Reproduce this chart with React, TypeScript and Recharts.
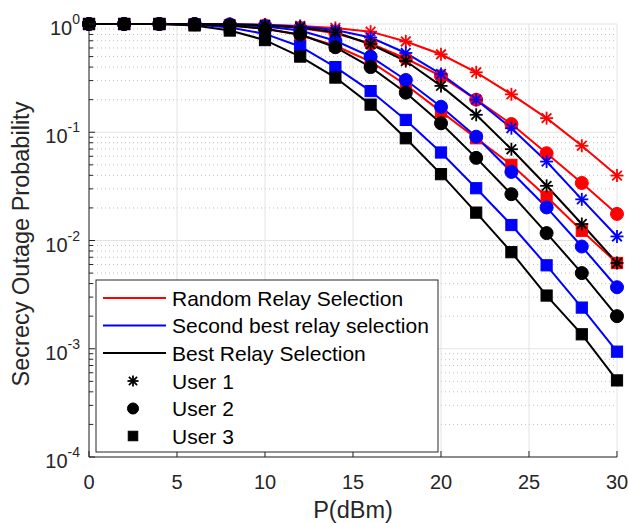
import React from 'react';
import { LineChart, Line, XAxis, YAxis, CartesianGrid } from 'recharts';

// ---------- data ----------
const powerDbm = [0, 2, 4, 6, 8, 10, 12, 14, 16, 18, 20, 22, 24, 26, 28, 30];

const randomUser1 = [1, 1, 1, 1, 0.995, 0.985, 0.96, 0.92, 0.85, 0.69, 0.525, 0.358, 0.224, 0.135, 0.075, 0.0398];
const randomUser2 = [1, 1, 1, 1, 0.99, 0.97, 0.92, 0.82, 0.66, 0.48, 0.33, 0.2, 0.119, 0.064, 0.034, 0.0176];
const randomUser3 = [1, 1, 1, 0.99, 0.97, 0.91, 0.79, 0.63, 0.45, 0.275, 0.155, 0.088, 0.05, 0.0254, 0.0123, 0.0062];

const secondUser1 = [1, 1, 1, 1, 0.995, 0.98, 0.95, 0.88, 0.75, 0.54, 0.345, 0.2, 0.109, 0.0536, 0.024, 0.0109];
const secondUser2 = [1, 1, 1, 1, 0.99, 0.95, 0.87, 0.7, 0.5, 0.304, 0.172, 0.091, 0.043, 0.0202, 0.0088, 0.0037];
const secondUser3 = [1, 1, 1, 0.99, 0.93, 0.81, 0.62, 0.4, 0.24, 0.13, 0.065, 0.0304, 0.0139, 0.0059, 0.0024, 0.00094];

const bestUser1 = [1, 1, 1, 1, 0.99, 0.975, 0.93, 0.84, 0.65, 0.455, 0.268, 0.145, 0.0697, 0.032, 0.0142, 0.0062];
const bestUser2 = [1, 1, 1, 0.995, 0.97, 0.9, 0.8, 0.61, 0.4, 0.232, 0.121, 0.058, 0.0268, 0.0117, 0.005, 0.002];
const bestUser3 = [1, 1, 1, 0.97, 0.87, 0.71, 0.5, 0.32, 0.18, 0.088, 0.041, 0.0181, 0.0078, 0.0031, 0.00136, 0.00051];

const xTicks = [0, 5, 10, 15, 20, 25, 30];
const yDecades = [1e-4, 1e-3, 1e-2, 1e-1, 1];
const yMinor = [1e-4, 1e-3, 1e-2, 1e-1].flatMap((d) => [2, 3, 4, 5, 6, 7, 8, 9].map((m) => m * d));
const yAllTicks = [...yDecades, ...yMinor].sort((a, b) => a - b);

const legendLines = [
  { label: 'Random Relay Selection', color: '#ff0000' },
  { label: 'Second best relay selection', color: '#0000ff' },
  { label: 'Best Relay Selection', color: '#000000' },
];
const legendMarkers = [
  { label: 'User 1', shape: 'star' },
  { label: 'User 2', shape: 'circle' },
  { label: 'User 3', shape: 'square' },
];

const seriesDefs = [
  { key: 'r1', values: randomUser1, color: '#ff0000', shape: 'star' },
  { key: 'r2', values: randomUser2, color: '#ff0000', shape: 'circle' },
  { key: 'r3', values: randomUser3, color: '#ff0000', shape: 'square' },
  { key: 's1', values: secondUser1, color: '#0000ff', shape: 'star' },
  { key: 's2', values: secondUser2, color: '#0000ff', shape: 'circle' },
  { key: 's3', values: secondUser3, color: '#0000ff', shape: 'square' },
  { key: 'b1', values: bestUser1, color: '#000000', shape: 'star' },
  { key: 'b2', values: bestUser2, color: '#000000', shape: 'circle' },
  { key: 'b3', values: bestUser3, color: '#000000', shape: 'square' },
];

const tableData = powerDbm.map((p, i) => {
  const row: Record<string, number> = { p };
  seriesDefs.forEach((s) => {
    row[s.key] = s.values[i];
  });
  return row;
});

// ---------- layout ----------
const W = 628;
const H = 523;
const PLOT_LEFT = 89;
const PLOT_TOP = 24;
const PLOT_RIGHT = 617;
const PLOT_BOTTOM = 457;
const AXIS = '#262626';
const FONT = '"Liberation Sans", Arial, Helvetica, sans-serif';

const isDecade = (v: number) => {
  const l = Math.log10(v);
  return Math.abs(l - Math.round(l)) < 1e-6;
};

const Marker = ({ shape, color, cx, cy, scale = 1 }: any) => {
  if (shape === 'circle') {
    return <circle cx={cx} cy={cy} r={6.5 * scale} fill={color} stroke={color} strokeWidth={1} />;
  }
  if (shape === 'square') {
    const s = 5.6 * scale;
    return <rect x={cx - s} y={cy - s} width={2 * s} height={2 * s} fill={color} stroke={color} strokeWidth={1} />;
  }
  const r = 6.5 * scale;
  const d = 4.8 * scale;
  return (
    <g stroke={color} strokeWidth={1.8} strokeLinecap="butt">
      <line x1={cx} y1={cy - r} x2={cx} y2={cy + r} />
      <line x1={cx - r} y1={cy} x2={cx + r} y2={cy} />
      <line x1={cx - d} y1={cy - d} x2={cx + d} y2={cy + d} />
      <line x1={cx - d} y1={cy + d} x2={cx + d} y2={cy - d} />
    </g>
  );
};

const makeDot = (shape: string, color: string) => (props: any) => {
  const { cx, cy, index } = props;
  if (cx == null || cy == null || isNaN(cx) || isNaN(cy)) return <g key={`d-${index}`} />;
  return (
    <g key={`d-${index}`}>
      <Marker shape={shape} color={color} cx={cx} cy={cy} />
    </g>
  );
};

const LeftTick = (props: any) => {
  const { y, payload } = props;
  const v = payload.value;
  const major = isDecade(v);
  const len = major ? 6 : 4;
  const exp = Math.round(Math.log10(v));
  return (
    <g>
      <line x1={PLOT_LEFT} x2={PLOT_LEFT + len} y1={y} y2={y} stroke={AXIS} strokeWidth={1} />
      {major && (
        <text x={80} y={y + 11} textAnchor="end" fontFamily={FONT} fontSize={20} fill={AXIS}>
          <tspan>10</tspan>
          <tspan dy={-11} fontSize={14}>{String(exp)}</tspan>
        </text>
      )}
    </g>
  );
};

const RightTick = (props: any) => {
  const { y, payload } = props;
  const major = isDecade(payload.value);
  const len = major ? 6 : 4;
  return <line x1={PLOT_RIGHT - len} x2={PLOT_RIGHT} y1={y} y2={y} stroke={AXIS} strokeWidth={1} />;
};

const BottomTick = (props: any) => {
  const { x, payload } = props;
  return (
    <g>
      <line x1={x} x2={x} y1={PLOT_BOTTOM} y2={PLOT_BOTTOM - 6} stroke={AXIS} strokeWidth={1} />
      <text x={x} y={PLOT_BOTTOM + 32} textAnchor="middle" fontFamily={FONT} fontSize={20} fill={AXIS}>
        {payload.value}
      </text>
    </g>
  );
};

const TopTick = (props: any) => {
  const { x } = props;
  return <line x1={x} x2={x} y1={PLOT_TOP} y2={PLOT_TOP + 6} stroke={AXIS} strokeWidth={1} />;
};

const LEG = { left: 96, top: 280, right: 438, bottom: 452 };
const legendRowY = [298, 325.5, 353, 381, 408.5, 436];
const Y_LABEL_X = 28.5;
const Y_LABEL_Y = 244;

export default function App() {
  return (
    <div style={{ position: 'absolute', left: 0, top: 0, width: W, height: H, background: '#fff' }}>
      <LineChart
        width={W}
        height={H}
        data={tableData}
        margin={{ top: PLOT_TOP, right: W - PLOT_RIGHT, bottom: 0, left: 0 }}
      >
        <CartesianGrid
          xAxisId="b"
          yAxisId="l"
          horizontalValues={yMinor}
          vertical={false}
          stroke="#c0c0c0"
          strokeDasharray="1 3"
          strokeWidth={1}
        />
        <CartesianGrid
          xAxisId="b"
          yAxisId="l"
          horizontalValues={yDecades}
          verticalValues={xTicks}
          stroke="#e3e3e3"
          strokeWidth={1}
        />
        <XAxis
          xAxisId="b"
          dataKey="p"
          type="number"
          domain={[0, 30]}
          ticks={xTicks}
          orientation="bottom"
          height={H - PLOT_BOTTOM}
          axisLine={{ stroke: AXIS, strokeWidth: 1 }}
          tickLine={false}
          tick={<BottomTick />}
          interval={0}
        />
        <XAxis
          xAxisId="t"
          dataKey="p"
          type="number"
          domain={[0, 30]}
          ticks={xTicks}
          orientation="top"
          height={0}
          axisLine={{ stroke: AXIS, strokeWidth: 1 }}
          tickLine={false}
          tick={<TopTick />}
          interval={0}
        />
        <YAxis
          yAxisId="l"
          scale="log"
          type="number"
          domain={[1e-4, 1]}
          ticks={yAllTicks}
          orientation="left"
          width={PLOT_LEFT}
          axisLine={{ stroke: AXIS, strokeWidth: 1 }}
          tickLine={false}
          tick={<LeftTick />}
          interval={0}
        />
        <YAxis
          yAxisId="r"
          scale="log"
          type="number"
          domain={[1e-4, 1]}
          ticks={yAllTicks}
          orientation="right"
          width={0}
          axisLine={{ stroke: AXIS, strokeWidth: 1 }}
          tickLine={false}
          tick={<RightTick />}
          interval={0}
        />
        {seriesDefs.map((s) => (
          <Line
            key={s.key}
            xAxisId="b"
            yAxisId="l"
            type="linear"
            dataKey={s.key}
            stroke={s.color}
            strokeWidth={2}
            dot={makeDot(s.shape, s.color)}
            activeDot={false}
            isAnimationActive={false}
          />
        ))}
      </LineChart>
      <svg
        width={W}
        height={H}
        style={{ position: 'absolute', left: 0, top: 0, pointerEvents: 'none' }}
      >
        <text
          x={Y_LABEL_X}
          y={Y_LABEL_Y}
          transform={`rotate(-90 ${Y_LABEL_X} ${Y_LABEL_Y})`}
          textAnchor="middle"
          fontFamily={FONT}
          fontSize={23.5}
          fill={AXIS}
        >
          Secrecy Outage Probability
        </text>
        <text
          x={(PLOT_LEFT + PLOT_RIGHT) / 2}
          y={518}
          textAnchor="middle"
          fontFamily={FONT}
          fontSize={23.5}
          fill={AXIS}
        >
          P(dBm)
        </text>
        <rect
          x={LEG.left}
          y={LEG.top}
          width={LEG.right - LEG.left}
          height={LEG.bottom - LEG.top}
          fill="#fff"
          stroke={AXIS}
          strokeWidth={1}
        />
        {legendLines.map((l, i) => (
          <g key={l.label}>
            <line x1={103} x2={166} y1={legendRowY[i]} y2={legendRowY[i]} stroke={l.color} strokeWidth={2} />
            <text x={172} y={legendRowY[i] + 7.5} fontFamily={FONT} fontSize={21} fill="#000">
              {l.label}
            </text>
          </g>
        ))}
        {legendMarkers.map((m, i) => (
          <g key={m.label}>
            <Marker shape={m.shape} color="#000" cx={133} cy={legendRowY[i + 3]} scale={0.85} />
            <text x={172} y={legendRowY[i + 3] + 7.5} fontFamily={FONT} fontSize={21} fill="#000">
              {m.label}
            </text>
          </g>
        ))}
      </svg>
    </div>
  );
}
